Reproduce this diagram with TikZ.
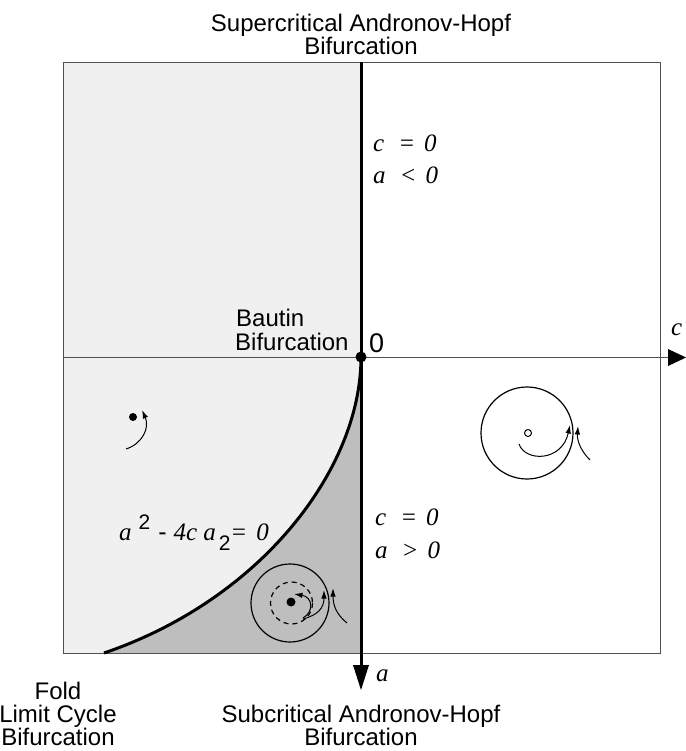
\documentclass[tikz,border=0pt]{standalone}
\usepackage{fontspec}
\setmainfont{Liberation Sans}
\newfontfamily\sansf{Liberation Sans}
\newfontfamily\serf{Liberation Serif}
\usetikzlibrary{arrows.meta}
\definecolor{lightbg}{HTML}{F0F0F0}
\definecolor{darkbg}{HTML}{BEBEBE}
\definecolor{framec}{HTML}{505050}
\begin{document}
\begin{tikzpicture}[x=1pt,y=-1pt,
  lbl/.style={font=\fontsize{24}{28}\selectfont, inner sep=0pt, anchor=base},
  mlbl/.style={font=\fontsize{25}{30}\selectfont\serf\itshape, inner sep=0pt, anchor=base west},
  flow/.style={line width=1pt, -{Latex[length=8.5pt,width=5.5pt]}},
  thin/.style={line width=1.2pt},
]
\useasboundingbox (0,0) rectangle (685,751);
% named points
\coordinate (TL) at (63,62);
\coordinate (BR) at (660,653);
\coordinate (O) at (361,357);
\coordinate (Otop) at (361,62);
\coordinate (Obot) at (361,666);
\coordinate (Oleft) at (63,357);
\coordinate (Oright) at (668,357);
\coordinate (F) at (104,653);
% fills
\fill[lightbg] (TL) rectangle (361,653);
\fill[darkbg] (O) .. controls (361,470) and (260,600) .. (F) -- (361,653) -- cycle;
% frame
\draw[line width=0.9pt, framec] (TL) rectangle (BR);
% horizontal axis
\draw[line width=1pt, framec] (Oleft) -- (Oright);
\fill (668,349) -- (686,357.5) -- (668,366) -- cycle;
% vertical axis
\draw[line width=3pt] (Otop) -- (Obot);
\fill (353,665) -- (361,690) -- (369,665) -- cycle;
% fold curve
\draw[line width=3pt] (O) .. controls (361,470) and (260,600) .. (F);
\fill (O) circle (5.5);
% phase portrait upper left
\fill (133,417) circle (4);
\draw[flow] (126,449) .. controls (142,444) and (150,428) .. (142,410);
% phase portrait right
\draw[thin] (527,433) circle (46);
\draw[line width=1pt] (528,433) circle (3.5);
\draw[flow] (519,444) .. controls (525,462) and (562,462) .. (570,425);
\draw[flow] (590,460) .. controls (580,450) and (577,440) .. (578,426);
% phase portrait lower
\draw[thin] (290,603) circle (39);
\draw[thin, dash pattern=on 5pt off 4pt] (291.5,603) circle (21);
\fill (291,602) circle (4.5);
\draw[flow] (303,618) .. controls (314,612) and (313,597) .. (294,594);
\draw[flow] (303,619) .. controls (318,615) and (324,608) .. (324,590);
\draw[flow] (347,623) .. controls (336,614) and (333,605) .. (333,588);
% labels
\node[lbl] (sup1) at (361,32) {Supercritical Andronov-Hopf};
\node[lbl] (sup2) at (361,55) {Bifurcation};
\node[lbl, anchor=base west] (bau1) at (236,326) {Bautin};
\node[lbl, anchor=base west] (bau2) at (235,350) {Bifurcation};
\node[font=\fontsize{27}{30}\selectfont, inner sep=0pt, anchor=base west] (zero) at (369,352) {0};
\node[mlbl] (clab) at (671,335) {c};
\node[mlbl] (alab) at (376,681) {a};
\node[mlbl] (c1) at (373,152) {c\kern14pt=\kern9pt0};
\node[mlbl] (a1) at (373,184) {a\kern14pt<\kern9pt0};
\node[mlbl] (c2) at (375,525) {c\kern14pt=\kern9pt0};
\node[mlbl] (a2) at (375,558) {a\kern14pt>\kern9pt0};
\node[mlbl] (eq) at (119,540) {a\kern7pt\raisebox{11pt}{\sansf\upshape\fontsize{21}{24}\selectfont 2}\kern8pt{\sansf\upshape -}\kern7pt4c\kern6pt a\kern3pt\raisebox{-10pt}{\sansf\upshape\fontsize{21}{24}\selectfont 2}=\kern9pt0};
\node[lbl] (fold1) at (58,699) {Fold};
\node[lbl] (fold2) at (58,722) {Limit Cycle};
\node[lbl] (fold3) at (58,745) {Bifurcation};
\node[lbl] (sub1) at (361,722) {Subcritical Andronov-Hopf};
\node[lbl] (sub2) at (361,745) {Bifurcation};
\end{tikzpicture}
\end{document}
